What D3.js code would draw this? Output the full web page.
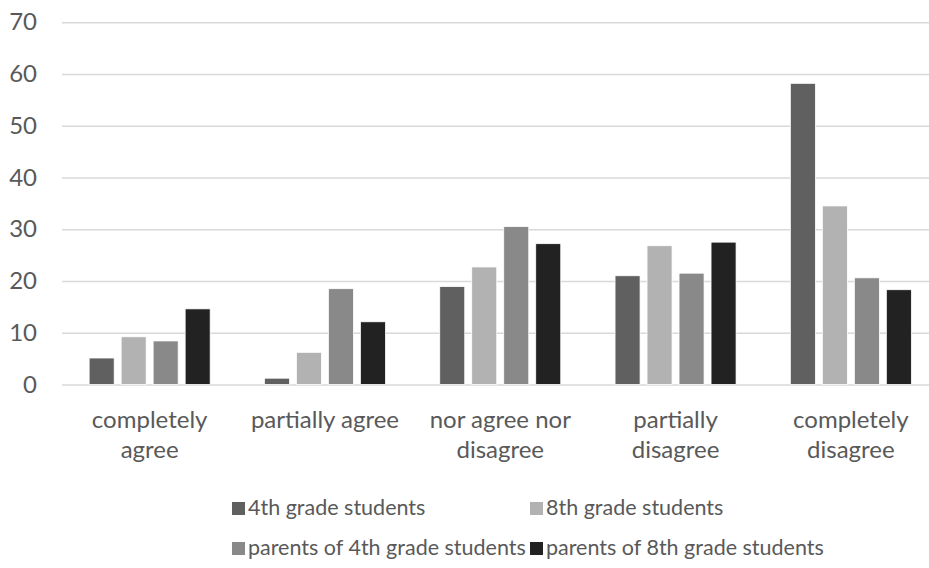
<!DOCTYPE html>
<html>
<head>
<meta charset="utf-8">
<script src="https://cdn.jsdelivr.net/npm/d3@7"></script>
<style>
  html, body { margin: 0; padding: 0; background: #fff; }
  svg { display: block; font-family: Lato, "Open Sans", sans-serif; }
</style>
</head>
<body>
<svg id="chart" width="929" height="568"></svg>
<script>
// Survey answers, percentage of respondents in each group
const categories = ["completely agree", "partially agree", "nor agree nor disagree", "partially disagree", "completely disagree"];
const seriesNames = ["4th grade students", "8th grade students", "parents of 4th grade students", "parents of 8th grade students"];
const grade4Students = [5.1, 1.2, 18.9, 21.0, 58.2];
const grade8Students = [9.2, 6.2, 22.7, 26.8, 34.5];
const grade4Parents = [8.4, 18.5, 30.5, 21.5, 20.6];
const grade8Parents = [14.6, 12.1, 27.2, 27.5, 18.3];
const yTicks = [0, 10, 20, 30, 40, 50, 60, 70];

const seriesValues = [grade4Students, grade8Students, grade4Parents, grade8Parents];
const colors = ["#606060", "#b2b2b2", "#898989", "#222222"];
const textColor = "#595959";
const axisFont = 24;
const legendFont = 21.5;

const svg = d3.select("#chart");

const plot = { left: 62, right: 938.5, top: 22.3, bottom: 384.4 };

const y = d3.scaleLinear().domain([0, 70]).range([plot.bottom, plot.top]);
const x0 = d3.scaleBand().domain(categories).range([plot.left, plot.right]).padding(0);
const x1 = d3.scaleBand().domain(seriesNames).range([-60.5, 60.5]).paddingInner(7 / 32).paddingOuter(0);
const color = d3.scaleOrdinal().domain(seriesNames).range(colors);

// Horizontal gridlines and value labels
const yAxis = d3.axisLeft(y).tickValues(yTicks).tickSize(-(plot.right - plot.left)).tickPadding(25);
const gy = svg.append("g").attr("transform", `translate(${plot.left},0)`).call(yAxis);
gy.select(".domain").remove();
gy.selectAll(".tick line").attr("stroke", "#d9d9d9").attr("stroke-width", 1.5);
gy.selectAll(".tick text").attr("fill", textColor).attr("font-size", axisFont).attr("font-family", "Lato, sans-serif");

// Bars
const rows = categories.map((c, i) => ({ category: c, values: seriesNames.map((s, j) => ({ series: s, value: seriesValues[j][i] })) }));
const groups = svg.append("g").selectAll("g").data(rows).join("g")
  .attr("transform", d => `translate(${x0(d.category) + x0.bandwidth() / 2},0)`);
groups.selectAll("rect").data(d => d.values).join("rect")
  .attr("x", d => x1(d.series))
  .attr("width", x1.bandwidth())
  .attr("y", d => y(d.value))
  .attr("height", d => y(0) - y(d.value))
  .attr("fill", d => color(d.series))
  .attr("stroke", "#ffffff")
  .attr("stroke-width", 0.75);

// Category labels, wrapped to the band width
const maxLabelWidth = 162;
const labels = svg.append("g").selectAll("text").data(categories).join("text")
  .attr("fill", textColor).attr("font-size", axisFont).attr("text-anchor", "middle")
  .attr("transform", d => `translate(${x0(d) + x0.bandwidth() / 2},0)`);
labels.each(function (d) {
  const t = d3.select(this);
  const words = d.split(" ");
  const lines = [];
  let line = [];
  const probe = t.append("tspan");
  words.forEach(w => {
    const trial = line.concat(w).join(" ");
    probe.text(trial);
    if (line.length && probe.node().getComputedTextLength() > maxLabelWidth) {
      lines.push(line.join(" "));
      line = [w];
    } else {
      line.push(w);
    }
  });
  lines.push(line.join(" "));
  probe.remove();
  t.selectAll("tspan").data(lines).join("tspan")
    .attr("x", 0).attr("y", (l, i) => 428 + i * 29.5).text(l => l);
});

// Legend, two columns
const legendCols = [232, 530];
const legendRows = [515, 555];
const legend = svg.append("g").selectAll("g").data(seriesNames).join("g")
  .attr("transform", (d, i) => `translate(${legendCols[i % 2]},${legendRows[Math.floor(i / 2)]})`);
legend.append("rect").attr("x", 0).attr("y", -13).attr("width", 13).attr("height", 13).attr("fill", d => color(d));
legend.append("text").attr("x", 16).attr("y", 0).attr("fill", textColor).attr("font-size", legendFont).text(d => d);
</script>
</body>
</html>
